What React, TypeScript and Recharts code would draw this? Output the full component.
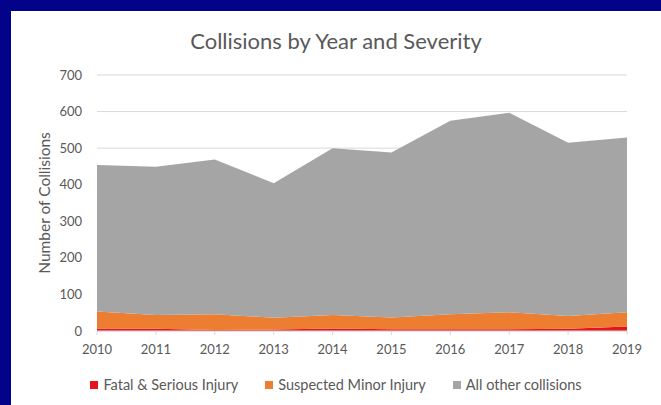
import React from 'react';
import { AreaChart, Area, XAxis, YAxis, CartesianGrid } from 'recharts';

const years = ['2010', '2011', '2012', '2013', '2014', '2015', '2016', '2017', '2018', '2019'];
const fatalSerious = [7, 6, 3, 4, 7, 5, 5, 5, 6, 12];
const suspectedMinor = [46, 38, 43, 32, 37, 32, 41, 46, 35, 39];
const allOther = [401, 405, 423, 368, 456, 451, 529, 546, 474, 478];
const yTicks = [0, 100, 200, 300, 400, 500, 600, 700];

const seriesNames = ['Fatal & Serious Injury', 'Suspected Minor Injury', 'All other collisions'];
const seriesColors = ['#E8141B', '#ED7D31', '#A5A5A5'];

const data = years.map((y, i) => ({
  year: y,
  fatal: fatalSerious[i],
  minor: suspectedMinor[i],
  other: allOther[i],
}));

const FONT = 'Lato, "Open Sans", sans-serif';
const TEXT = '#595959';

const LegendBox = () => (
  <div style={{ position: 'absolute', left: 11, width: 650, top: 376, display: 'flex', justifyContent: 'center', fontFamily: FONT, fontSize: 14.5, color: TEXT }}>
    {seriesNames.map((n, i) => (
      <div key={n} style={{ display: 'flex', alignItems: 'center', marginRight: i < 2 ? 27 : 0 }}>
        <span style={{ display: 'inline-block', width: 8, height: 8, background: seriesColors[i], marginRight: 5 }} />
        <span>{n}</span>
      </div>
    ))}
  </div>
);

export default function App() {
  return (
    <div style={{ position: 'absolute', left: 0, top: 0, width: 661, height: 405, background: '#02038a', overflow: 'hidden' }}>
      <div style={{ position: 'absolute', left: 11, top: 11, width: 650, height: 394, background: '#ffffff' }} />
      <div style={{ position: 'absolute', left: 11, top: 27, width: 650, textAlign: 'center', fontFamily: FONT, fontSize: 22, color: TEXT }}>
        Collisions by Year and Severity
      </div>
      <div style={{ position: 'absolute', left: 0, top: 0 }}>
        <AreaChart width={661} height={405} data={data} margin={{ top: 75, right: 34, bottom: 50, left: 0 }}>
          <CartesianGrid vertical={false} stroke="#D9D9D9" />
          <XAxis
            dataKey="year"
            height={24}
            tickSize={4}
            tickMargin={10}
            stroke="#D9D9D9"
            tick={{ fill: TEXT, fontSize: 13, fontFamily: FONT }}
            interval={0}
          />
          <YAxis
            width={97}
            domain={[0, 700]}
            ticks={yTicks}
            axisLine={false}
            tickLine={false}
            tickSize={6}
            tickMargin={9}
            tick={{ fill: TEXT, fontSize: 13, fontFamily: FONT }}
            label={{ value: 'Number of Collisions', angle: -90, position: 'insideLeft', offset: 44, style: { textAnchor: 'middle', fill: TEXT, fontSize: 15.5, fontFamily: FONT } }}
          />
          <Area type="linear" dataKey="fatal" name={seriesNames[0]} stackId="a" stroke="none" fill={seriesColors[0]} fillOpacity={1} isAnimationActive={false} />
          <Area type="linear" dataKey="minor" name={seriesNames[1]} stackId="a" stroke="none" fill={seriesColors[1]} fillOpacity={1} isAnimationActive={false} />
          <Area type="linear" dataKey="other" name={seriesNames[2]} stackId="a" stroke="none" fill={seriesColors[2]} fillOpacity={1} isAnimationActive={false} />
        </AreaChart>
      </div>
      <LegendBox />
    </div>
  );
}
